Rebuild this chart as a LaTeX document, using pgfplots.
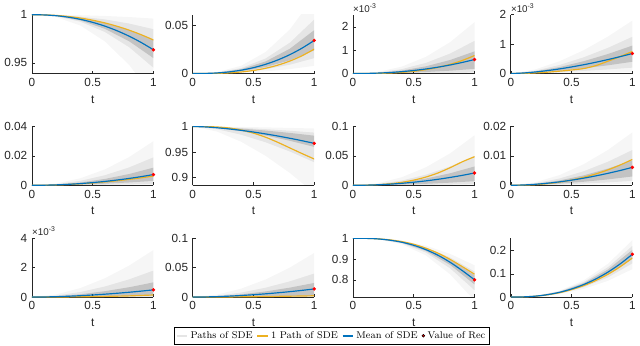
\documentclass[border=0pt]{standalone}
\usepackage{fontspec}
\usepackage{pgfplots}
\pgfplotsset{compat=1.18}
\newfontfamily\hv{Liberation Sans}
\definecolor{axc}{RGB}{38,38,38}
\definecolor{mblue}{RGB}{0,114,189}
\definecolor{morange}{RGB}{237,177,32}
\definecolor{mred}{RGB}{255,0,0}
\pgfplotsset{
  sde/.style={scale only axis, width=93pt, height=45pt, anchor=north west,
    xmin=0, xmax=1, axis x line*=bottom, axis y line*=left,
    axis line style={-, draw=axc, line width=0.5pt},
    tick align=inside, major tick length=2.2pt,
    tick style={draw=axc, line width=0.4pt},
    xtick={0,0.5,1}, xticklabels={0,0.5,1},
    xlabel={t},
    ticklabel style={font=\hv\fontsize{9}{10}\selectfont, text=axc},
    xlabel style={font=\hv\fontsize{9}{10}\selectfont, text=axc},
    scaled ticks=false, clip mode=individual},
  band1/.style={draw=none, fill=black, fill opacity=0.035, forget plot},
  band2/.style={draw=none, fill=black, fill opacity=0.07, forget plot},
  band3/.style={draw=none, fill=black, fill opacity=0.15, forget plot},
  orng/.style={morange, line width=0.9pt, smooth, forget plot},
  blu/.style={mblue, line width=0.9pt, smooth, forget plot},
  rdot/.style={only marks, mark=*, mark size=1.1pt, mred, forget plot},
  expo/.style={after end axis/.code={\node[anchor=south west, inner sep=0pt, text=axc, font=\hv\fontsize{7.5}{8}\selectfont, yshift=1.5pt] at (rel axis cs:0,1) {×10\textsuperscript{-3}};}},
}
\begin{document}
\begin{tikzpicture}
\path (0,0) rectangle (480pt,-264pt);
% ---------- Row 1 ----------
\begin{axis}[sde, at={(18.375pt,-11.25pt)}, ymin=0.939, ymax=1, ytick={0.95,1}, yticklabels={0.95,1}]
\addplot[band1] coordinates {(0,1)(0.2,0.99988)(0.4,0.99947)(0.6,0.9987)(0.8,0.99755)(1,0.996)(1,0.915)(0.8,0.94798)(0.6,0.97238)(0.4,0.9887)(0.2,0.99754)(0,1)};
\addplot[band2] coordinates {(0,1)(0.2,0.99957)(0.4,0.998)(0.6,0.99513)(0.8,0.99082)(1,0.985)(1,0.945)(0.8,0.96634)(0.6,0.98213)(0.4,0.99269)(0.2,0.9984)(0,1)};
\addplot[band3] coordinates {(0,1)(0.2,0.99925)(0.4,0.99654)(0.6,0.99155)(0.8,0.98409)(1,0.974)(1,0.955)(0.8,0.97246)(0.6,0.98538)(0.4,0.99402)(0.2,0.9987)(0,1)};
\addplot[orng] coordinates {(0,1)(0.1,0.99983)(0.2,0.99924)(0.3,0.99815)(0.4,0.99652)(0.5,0.9943)(0.6,0.99148)(0.7,0.98805)(0.8,0.98397)(0.9,0.97922)(1,0.9738)};
\addplot[blu] coordinates {(0,1)(0.1,0.99977)(0.2,0.99894)(0.3,0.99743)(0.4,0.99516)(0.5,0.99208)(0.6,0.98817)(0.7,0.9834)(0.8,0.97772)(0.9,0.97113)(1,0.9636)};
\addplot[rdot] coordinates {(1,0.9636)};
\end{axis}
\begin{axis}[sde, at={(141.375pt,-11.25pt)}, ymin=0, ymax=0.061, ytick={0,0.05}, yticklabels={0,0.05}]
\addplot[band1] coordinates {(0,0)(0.2,0.00143)(0.4,0.0081)(0.6,0.02231)(0.8,0.04579)(1,0.08)(1,0.008)(0.8,0.00458)(0.6,0.00223)(0.4,0.00081)(0.2,0.00014)(0,0)};
\addplot[band2] coordinates {(0,0)(0.2,0.001)(0.4,0.00567)(0.6,0.01562)(0.8,0.03205)(1,0.056)(1,0.016)(0.8,0.00916)(0.6,0.00446)(0.4,0.00162)(0.2,0.00029)(0,0)};
\addplot[band3] coordinates {(0,0)(0.2,0.00081)(0.4,0.00455)(0.6,0.01255)(0.8,0.02576)(1,0.045)(1,0.024)(0.8,0.01374)(0.6,0.00669)(0.4,0.00243)(0.2,0.00043)(0,0)};
\addplot[orng] coordinates {(0,0)(0.1,0.000025)(0.2,0.0002)(0.3,0.00068)(0.4,0.00162)(0.5,0.00316)(0.6,0.00546)(0.7,0.00868)(0.8,0.01295)(0.9,0.01844)(1,0.0253)};
\addplot[blu] coordinates {(0,0)(0.1,0.00011)(0.2,0.00061)(0.3,0.00169)(0.4,0.00347)(0.5,0.00606)(0.6,0.00957)(0.7,0.01406)(0.8,0.01963)(0.9,0.02636)(1,0.0343)};
\addplot[rdot] coordinates {(1,0.0343)};
\end{axis}
\begin{axis}[sde, expo, at={(264pt,-11.25pt)}, ymin=0, ymax=2.52, ytick={0,1,2}, yticklabels={0,1,2}]
\addplot[band1] coordinates {(0,0)(0.2,0.064)(0.4,0.293)(0.6,0.715)(0.8,1.346)(1,2.2)(1,0)(0.8,0)(0.6,0)(0.4,0)(0.2,0)(0,0)};
\addplot[band2] coordinates {(0,0)(0.2,0.041)(0.4,0.186)(0.6,0.455)(0.8,0.857)(1,1.4)(1,0.05)(0.8,0.0306)(0.6,0.0163)(0.4,0.0067)(0.2,0.0015)(0,0)};
\addplot[band3] coordinates {(0,0)(0.2,0.0276)(0.4,0.126)(0.6,0.309)(0.8,0.581)(1,0.95)(1,0.2)(0.8,0.1224)(0.6,0.065)(0.4,0.0266)(0.2,0.0058)(0,0)};
\addplot[orng] coordinates {(0,0)(0.1,0.00077)(0.2,0.00616)(0.3,0.0208)(0.4,0.0493)(0.5,0.0963)(0.6,0.1663)(0.7,0.2641)(0.8,0.3942)(0.9,0.5613)(1,0.77)};
\addplot[blu] coordinates {(0,0)(0.1,0.0038)(0.2,0.0174)(0.3,0.0424)(0.4,0.0798)(0.5,0.1306)(0.6,0.195)(0.7,0.2736)(0.8,0.3672)(0.9,0.4758)(1,0.6)};
\addplot[rdot] coordinates {(1,0.6)};
\end{axis}
\begin{axis}[sde, expo, at={(384.75pt,-11.25pt)}, ymin=0, ymax=2, ytick={0,1,2}, yticklabels={0,1,2}]
\addplot[band1] coordinates {(0,0)(0.2,0.137)(0.4,0.416)(0.6,0.795)(0.8,1.26)(1,1.8)(1,0.05)(0.8,0.035)(0.6,0.0221)(0.4,0.0116)(0.2,0.0038)(0,0)};
\addplot[band2] coordinates {(0,0)(0.2,0.0953)(0.4,0.289)(0.6,0.552)(0.8,0.875)(1,1.25)(1,0.2)(0.8,0.14)(0.6,0.0883)(0.4,0.0462)(0.2,0.0152)(0,0)};
\addplot[band3] coordinates {(0,0)(0.2,0.0724)(0.4,0.219)(0.6,0.4195)(0.8,0.665)(1,0.95)(1,0.4)(0.8,0.28)(0.6,0.1766)(0.4,0.0924)(0.2,0.0305)(0,0)};
\addplot[orng] coordinates {(0,0)(0.1,0.005)(0.2,0.02)(0.3,0.045)(0.4,0.08)(0.5,0.12)(0.6,0.17)(0.7,0.27)(0.8,0.42)(0.9,0.58)(1,0.75)};
\addplot[blu] coordinates {(0,0)(0.1,0.017)(0.2,0.052)(0.3,0.099)(0.4,0.157)(0.5,0.224)(0.6,0.300)(0.7,0.384)(0.8,0.476)(0.9,0.575)(1,0.68)};
\addplot[rdot] coordinates {(1,0.68)};
\end{axis}
% ---------- Row 2 ----------
\begin{axis}[sde, at={(18.375pt,-96.75pt)}, ymin=0, ymax=0.04, ytick={0,0.02,0.04}, yticklabels={0,0.02,0.04}]
\addplot[band1] coordinates {(0,0)(0.2,0.0012)(0.4,0.0048)(0.6,0.0108)(0.8,0.0192)(1,0.03)(1,0)(0.8,0)(0.6,0)(0.4,0)(0.2,0)(0,0)};
\addplot[band2] coordinates {(0,0)(0.2,0.00076)(0.4,0.00304)(0.6,0.00684)(0.8,0.01216)(1,0.019)(1,0.001)(0.8,0.00064)(0.6,0.00036)(0.4,0.00016)(0.2,0.00004)(0,0)};
\addplot[band3] coordinates {(0,0)(0.2,0.00048)(0.4,0.00192)(0.6,0.00432)(0.8,0.00768)(1,0.012)(1,0.003)(0.8,0.00192)(0.6,0.00108)(0.4,0.00048)(0.2,0.00012)(0,0)};
\addplot[orng] coordinates {(0,0)(0.1,0.000063)(0.2,0.00025)(0.3,0.00057)(0.4,0.00101)(0.5,0.00158)(0.6,0.00227)(0.7,0.00309)(0.8,0.00403)(0.9,0.0051)(1,0.0063)};
\addplot[blu] coordinates {(0,0)(0.1,0.000073)(0.2,0.00029)(0.3,0.00066)(0.4,0.00117)(0.5,0.00183)(0.6,0.00263)(0.7,0.00358)(0.8,0.00467)(0.9,0.00591)(1,0.0073)};
\addplot[rdot] coordinates {(1,0.0073)};
\end{axis}
\begin{axis}[sde, at={(141.375pt,-96.75pt)}, ymin=0.885, ymax=1, ytick={0.9,0.95,1}, yticklabels={0.9,0.95,1}]
\addplot[band1] coordinates {(0,1)(0.2,0.9997)(0.4,0.99908)(0.6,0.99823)(0.8,0.9972)(1,0.996)(1,0.87)(0.8,0.909)(0.6,0.94259)(0.4,0.96997)(0.2,0.9901)(0,1)};
\addplot[band2] coordinates {(0,1)(0.2,0.99909)(0.4,0.99723)(0.6,0.9947)(0.8,0.9916)(1,0.988)(1,0.93)(0.8,0.951)(0.6,0.96909)(0.4,0.98383)(0.2,0.99467)(0,1)};
\addplot[band3] coordinates {(0,1)(0.2,0.99863)(0.4,0.99584)(0.6,0.99205)(0.8,0.9874)(1,0.982)(1,0.96)(0.8,0.972)(0.6,0.98234)(0.4,0.99076)(0.2,0.99695)(0,1)};
\addplot[orng] coordinates {(0,1)(0.1,0.9998)(0.2,0.999)(0.3,0.997)(0.4,0.993)(0.5,0.987)(0.6,0.979)(0.7,0.969)(0.8,0.958)(0.9,0.947)(1,0.9364)};
\addplot[blu] coordinates {(0,1)(0.1,0.99917)(0.2,0.99749)(0.3,0.99519)(0.4,0.99238)(0.5,0.98911)(0.6,0.98543)(0.7,0.98136)(0.8,0.9769)(0.9,0.97212)(1,0.967)};
\addplot[rdot] coordinates {(1,0.967)};
\end{axis}
\begin{axis}[sde, at={(264pt,-96.75pt)}, ymin=0, ymax=0.1, ytick={0,0.05,0.1}, yticklabels={0,0.05,0.1}]
\addplot[band1] coordinates {(0,0)(0.2,0.0034)(0.4,0.0136)(0.6,0.0306)(0.8,0.0544)(1,0.085)(1,0)(0.8,0)(0.6,0)(0.4,0)(0.2,0)(0,0)};
\addplot[band2] coordinates {(0,0)(0.2,0.002)(0.4,0.008)(0.6,0.018)(0.8,0.032)(1,0.05)(1,0.002)(0.8,0.00128)(0.6,0.00072)(0.4,0.00032)(0.2,0.00008)(0,0)};
\addplot[band3] coordinates {(0,0)(0.2,0.00128)(0.4,0.00512)(0.6,0.01152)(0.8,0.02048)(1,0.032)(1,0.007)(0.8,0.00448)(0.6,0.00252)(0.4,0.00112)(0.2,0.00028)(0,0)};
\addplot[orng] coordinates {(0,0)(0.1,0.0002)(0.2,0.001)(0.3,0.0025)(0.4,0.005)(0.5,0.0088)(0.6,0.014)(0.7,0.021)(0.8,0.030)(0.9,0.040)(1,0.0486)};
\addplot[blu] coordinates {(0,0)(0.1,0.00021)(0.2,0.00084)(0.3,0.00188)(0.4,0.00334)(0.5,0.00523)(0.6,0.00752)(0.7,0.01024)(0.8,0.01338)(0.9,0.01693)(1,0.0209)};
\addplot[rdot] coordinates {(1,0.0209)};
\end{axis}
\begin{axis}[sde, at={(384.75pt,-96.75pt)}, ymin=0, ymax=0.02, ytick={0,0.01,0.02}, yticklabels={0,0.01,0.02}]
\addplot[band1] coordinates {(0,0)(0.2,0.00099)(0.4,0.00346)(0.6,0.00718)(0.8,0.01204)(1,0.018)(1,0.0005)(0.8,0.00033)(0.6,0.0002)(0.4,0.0001)(0.2,0.00003)(0,0)};
\addplot[band2] coordinates {(0,0)(0.2,0.00066)(0.4,0.0023)(0.6,0.00478)(0.8,0.00803)(1,0.012)(1,0.0015)(0.8,0.001)(0.6,0.0006)(0.4,0.00029)(0.2,0.00008)(0,0)};
\addplot[band3] coordinates {(0,0)(0.2,0.00047)(0.4,0.00163)(0.6,0.00339)(0.8,0.00569)(1,0.0085)(1,0.003)(0.8,0.00201)(0.6,0.0012)(0.4,0.00058)(0.2,0.00017)(0,0)};
\addplot[orng] coordinates {(0,0)(0.1,0.00004)(0.2,0.00022)(0.3,0.00055)(0.4,0.00107)(0.5,0.00179)(0.6,0.00272)(0.7,0.00387)(0.8,0.00527)(0.9,0.00691)(1,0.0088)};
\addplot[blu] coordinates {(0,0)(0.1,0.0001)(0.2,0.00034)(0.3,0.0007)(0.4,0.00117)(0.5,0.00175)(0.6,0.00243)(0.7,0.00321)(0.8,0.00408)(0.9,0.00504)(1,0.0061)};
\addplot[rdot] coordinates {(1,0.0061)};
\end{axis}
% ---------- Row 3 ----------
\begin{axis}[sde, expo, at={(18.375pt,-182.25pt)}, ymin=0, ymax=4, ytick={0,2,4}, yticklabels={0,2,4}]
\addplot[band1] coordinates {(0,0)(0.2,0.177)(0.4,0.614)(0.6,1.276)(0.8,2.141)(1,3.2)(1,0)(0.8,0)(0.6,0)(0.4,0)(0.2,0)(0,0)};
\addplot[band2] coordinates {(0,0)(0.2,0.0994)(0.4,0.3456)(0.6,0.7177)(0.8,1.204)(1,1.8)(1,0)(0.8,0)(0.6,0)(0.4,0)(0.2,0)(0,0)};
\addplot[band3] coordinates {(0,0)(0.2,0.0552)(0.4,0.192)(0.6,0.3987)(0.8,0.669)(1,1.0)(1,0.1)(0.8,0.0669)(0.6,0.0399)(0.4,0.0192)(0.2,0.0055)(0,0)};
\addplot[orng] coordinates {(0,0)(0.1,0)(0.2,0.005)(0.3,0.01)(0.4,0.02)(0.5,0.03)(0.6,0.045)(0.7,0.06)(0.8,0.08)(0.9,0.11)(1,0.14)};
\addplot[blu] coordinates {(0,0)(0.1,0.0077)(0.2,0.027)(0.3,0.0561)(0.4,0.0941)(0.5,0.1406)(0.6,0.1954)(0.7,0.2577)(0.8,0.3278)(0.9,0.4052)(1,0.49)};
\addplot[rdot] coordinates {(1,0.49)};
\end{axis}
\begin{axis}[sde, at={(141.375pt,-182.25pt)}, ymin=0, ymax=0.1, ytick={0,0.05,0.1}, yticklabels={0,0.05,0.1}]
\addplot[band1] coordinates {(0,0)(0.2,0.00414)(0.4,0.0144)(0.6,0.0299)(0.8,0.05018)(1,0.075)(1,0)(0.8,0)(0.6,0)(0.4,0)(0.2,0)(0,0)};
\addplot[band2] coordinates {(0,0)(0.2,0.00221)(0.4,0.00768)(0.6,0.01595)(0.8,0.02676)(1,0.04)(1,0)(0.8,0)(0.6,0)(0.4,0)(0.2,0)(0,0)};
\addplot[band3] coordinates {(0,0)(0.2,0.00132)(0.4,0.00461)(0.6,0.00957)(0.8,0.01606)(1,0.024)(1,0.002)(0.8,0.00134)(0.6,0.0008)(0.4,0.00038)(0.2,0.00011)(0,0)};
\addplot[orng] coordinates {(0,0)(0.1,0)(0.2,0.0001)(0.3,0.0002)(0.4,0.0004)(0.5,0.0006)(0.6,0.0009)(0.7,0.0012)(0.8,0.0015)(0.9,0.0018)(1,0.0022)};
\addplot[blu] coordinates {(0,0)(0.1,0.00022)(0.2,0.00076)(0.3,0.00158)(0.4,0.00265)(0.5,0.00396)(0.6,0.0055)(0.7,0.00726)(0.8,0.00923)(0.9,0.01141)(1,0.0138)};
\addplot[rdot] coordinates {(1,0.0138)};
\end{axis}
\begin{axis}[sde, at={(264pt,-182.25pt)}, ymin=0.717, ymax=1, ytick={0.8,0.9,1}, yticklabels={0.8,0.9,1},
  legend columns=4,
  legend style={at={(-0.173,-0.658)}, anchor=center, draw=black, line width=0.4pt,
    font=\fontsize{7.5}{9}\selectfont, inner sep=1pt,
    /tikz/every even column/.append style={column sep=1pt}}]
\addplot[band1] coordinates {(0,1)(0.2,0.99805)(0.4,0.98765)(0.6,0.96425)(0.8,0.9246)(1,0.87)(1,0.70)(0.8,0.826)(0.6,0.9175)(0.4,0.9715)(0.2,0.9955)(0,1)};
\addplot[band2] coordinates {(0,1)(0.2,0.9976)(0.4,0.9848)(0.6,0.956)(0.8,0.9072)(1,0.84)(1,0.75)(0.8,0.855)(0.6,0.93125)(0.4,0.97625)(0.2,0.99625)(0,1)};
\addplot[band3] coordinates {(0,1)(0.2,0.99733)(0.4,0.98309)(0.6,0.95105)(0.8,0.89676)(1,0.822)(1,0.778)(0.8,0.87124)(0.6,0.93895)(0.4,0.97891)(0.2,0.99667)(0,1)};
\addplot[orng] coordinates {(0,1)(0.1,0.9995)(0.2,0.9972)(0.3,0.9925)(0.4,0.984)(0.5,0.971)(0.6,0.952)(0.7,0.928)(0.8,0.898)(0.9,0.863)(1,0.827)};
\addplot[blu] coordinates {(0,1)(0.1,0.9995)(0.2,0.997)(0.3,0.991)(0.4,0.981)(0.5,0.966)(0.6,0.945)(0.7,0.918)(0.8,0.884)(0.9,0.844)(1,0.80)};
\addplot[rdot] coordinates {(1,0.80)};
\addlegendimage{legend image code/.code={\draw[draw=black!10, line width=1.2pt] (0pt,0pt) -- (8pt,0pt);}}
\addlegendimage{legend image code/.code={\draw[draw=morange, line width=1.2pt] (0pt,0pt) -- (8pt,0pt);}}
\addlegendimage{legend image code/.code={\draw[draw=mblue, line width=1.2pt] (0pt,0pt) -- (8pt,0pt);}}
\addlegendimage{legend image code/.code={\fill[fill=mred] (4pt,0pt) circle (1.1pt);}}
\legend{Paths of SDE, 1 Path of SDE, Mean of SDE, Value of Rec}
\end{axis}
\begin{axis}[sde, at={(384.75pt,-182.25pt)}, ymin=0, ymax=0.253, ytick={0,0.1,0.2}, yticklabels={0,0.1,0.2}]
\addplot[band1] coordinates {(0,0)(0.2,0.00515)(0.4,0.02717)(0.6,0.07191)(0.8,0.1434)(1,0.245)(1,0.12)(0.8,0.07024)(0.6,0.03522)(0.4,0.01331)(0.2,0.00252)(0,0)};
\addplot[band2] coordinates {(0,0)(0.2,0.00462)(0.4,0.0244)(0.6,0.06457)(0.8,0.12877)(1,0.22)(1,0.145)(0.8,0.08487)(0.6,0.04256)(0.4,0.01608)(0.2,0.00305)(0,0)};
\addplot[band3] coordinates {(0,0)(0.2,0.00426)(0.4,0.02251)(0.6,0.05958)(0.8,0.11882)(1,0.203)(1,0.165)(0.8,0.09657)(0.6,0.04843)(0.4,0.0183)(0.2,0.00347)(0,0)};
\addplot[orng] coordinates {(0,0)(0.1,0.00067)(0.2,0.00353)(0.3,0.00934)(0.4,0.01863)(0.5,0.03184)(0.6,0.04931)(0.7,0.07137)(0.8,0.09833)(0.9,0.1305)(1,0.168)};
\addplot[blu] coordinates {(0,0)(0.1,0.00074)(0.2,0.00386)(0.3,0.01023)(0.4,0.0204)(0.5,0.03487)(0.6,0.054)(0.7,0.07816)(0.8,0.1077)(0.9,0.1429)(1,0.184)};
\addplot[rdot] coordinates {(1,0.184)};
\end{axis}
\end{tikzpicture}
\end{document}
